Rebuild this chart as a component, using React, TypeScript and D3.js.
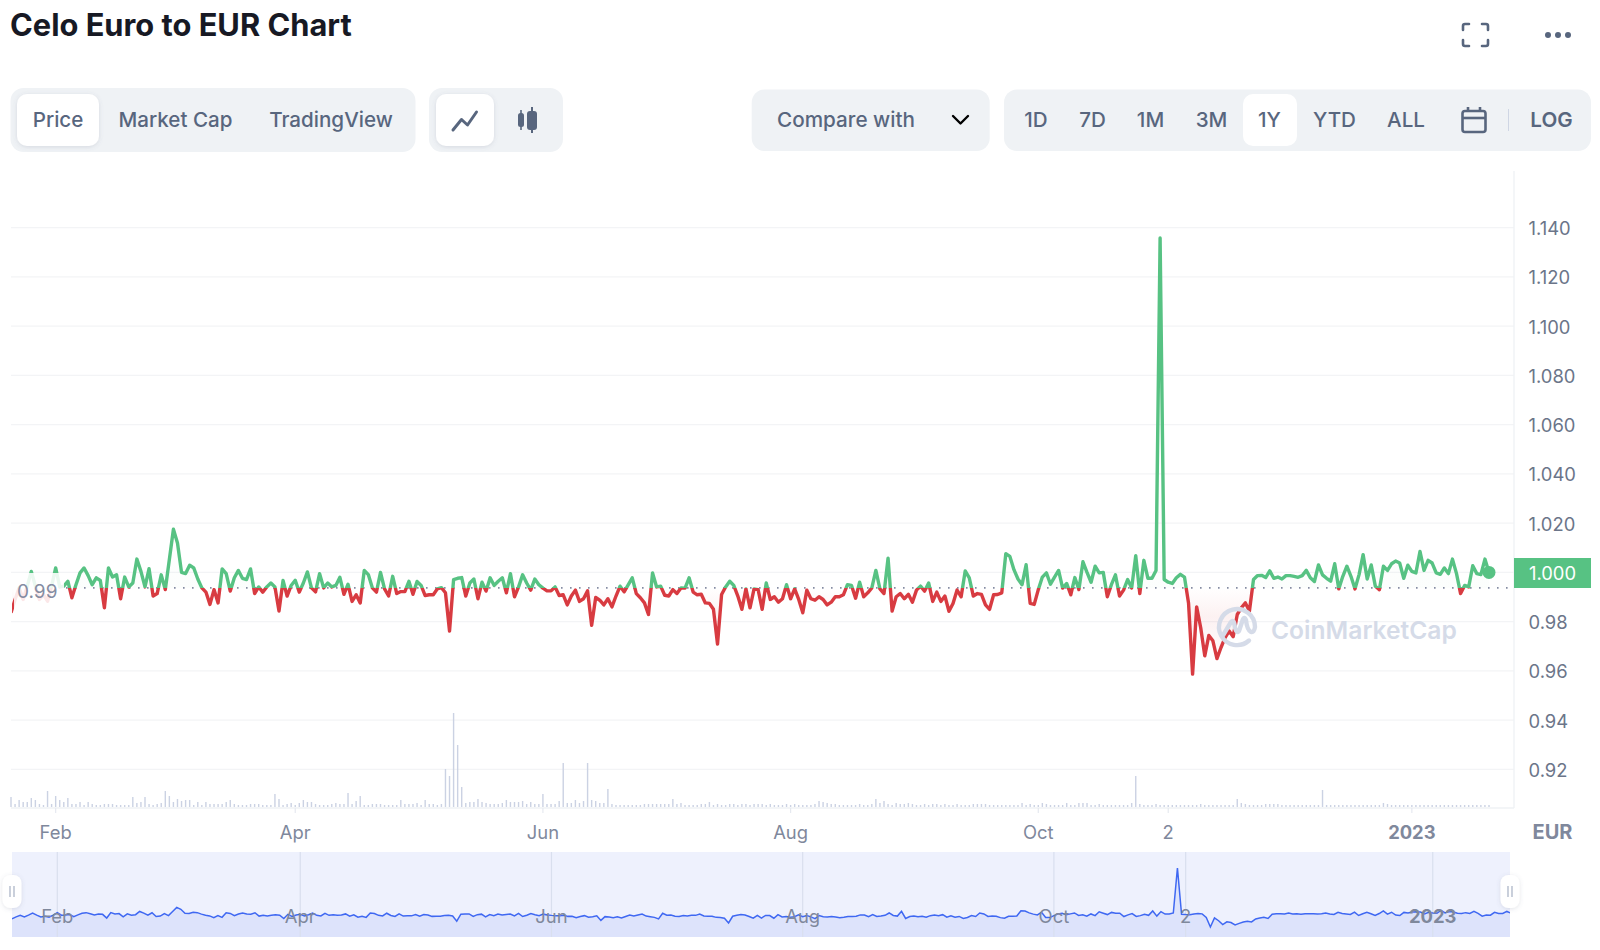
import * as d3 from "d3";

const prices = [
  0.9836, 0.989, 0.9937, 0.989, 0.9944, 1.0004, 0.9944, 0.989, 0.991, 0.9883,
  0.9944, 1.0018, 0.9941, 0.9944, 0.9964, 0.9897, 0.995, 0.9998, 1.0018, 0.9987,
  0.995, 0.9978, 0.9967, 0.9856, 1.0018, 0.9981, 0.999, 0.9893, 0.9981, 0.9941,
  0.9957, 1.0054, 1.0004, 0.9941, 1.0015, 0.9904, 0.9914, 0.999, 0.993, 1.0052,
  1.0175, 1.0119, 1.0, 0.9995, 1.0029, 1.0018, 0.9973, 0.9937, 0.992, 0.987,
  0.993, 0.9876, 1.0014, 0.9995, 0.9924, 0.9978, 1.0008, 0.9976, 0.9971, 1.0014,
  0.9914, 0.9941, 0.992, 0.9941, 0.9957, 0.9941, 0.9843, 0.9967, 0.9904, 0.9947,
  0.9968, 0.992, 0.9957, 1.0002, 0.9937, 0.9921, 0.9995, 0.9937, 0.9957, 0.9941,
  0.9947, 0.998, 0.9911, 0.9952, 0.9882, 0.9909, 0.9876, 1.0008, 0.9991, 0.9937,
  0.992, 1.0, 0.9933, 0.9904, 0.9984, 0.9914, 0.9922, 0.9922, 0.9964, 0.9911,
  0.9963, 0.9947, 0.9906, 0.9909, 0.9909, 0.9933, 0.9938, 0.9917, 0.9762, 0.9971,
  0.9976, 0.9979, 0.9904, 0.9957, 0.9973, 0.9893, 0.996, 0.9924, 0.9978, 0.9947,
  0.9964,
  0.9978, 0.9917, 0.9995, 0.9901, 0.9941, 0.999, 0.9957, 0.9928, 0.9973, 0.995,
  0.9936, 0.9925, 0.9925, 0.9941, 0.9906, 0.9909, 0.9868, 0.9904, 0.9928, 0.9882,
  0.9893, 0.9925, 0.9785, 0.9898, 0.9887, 0.9868, 0.9893, 0.986, 0.9904, 0.9944,
  0.9921, 0.9949, 0.9978, 0.9914, 0.9897, 0.9876, 0.9829, 0.9998, 0.9941, 0.9944,
  0.9907, 0.9904, 0.993, 0.9914, 0.9937, 0.9936, 0.9978, 0.992, 0.9909, 0.9911,
  0.9876, 0.9874, 0.985, 0.9709, 0.991, 0.9941, 0.9964, 0.9947, 0.9904, 0.985,
  0.9933, 0.9856, 0.9933, 0.993, 0.985, 0.9957, 0.989, 0.9901, 0.9879, 0.9893,
  0.995, 0.9893, 0.9933, 0.989, 0.9836, 0.9928, 0.9893, 0.9887, 0.9901, 0.989,
  0.9868, 0.9879, 0.9901, 0.9901, 0.9909, 0.995, 0.9947, 0.9895, 0.996, 0.9901,
  0.9917, 0.9937, 1.0008, 0.9933, 0.9914, 1.0058, 0.9843, 0.9901, 0.9914, 0.9893,
  0.9911, 0.9879, 0.9928, 0.9944, 0.9924, 0.9957, 0.9882, 0.992, 0.9882, 0.9904,
  0.9842, 0.9874, 0.9928, 0.9901, 1.0006, 0.9978, 0.9904, 0.9914, 0.9911, 0.9868,
  0.985, 0.9909, 0.991,
  0.9917, 1.0076, 1.0065, 1.0011, 0.9973, 0.995, 1.0031, 0.9874, 0.987, 0.993,
  0.9981, 0.9998, 0.9952, 0.9981, 1.0008, 0.9936, 0.9955, 0.9909, 0.9979, 0.993,
  1.0043, 1.0, 0.996, 1.0025, 0.9998, 1.0, 0.9901, 0.995, 0.999, 0.9904,
  0.9928, 0.9971, 0.9937, 1.0068, 0.9914, 1.0049, 0.9976, 0.9976, 1.0008, 1.1358,
  0.9971, 0.996, 0.9955, 0.9978, 0.9992, 0.9981, 0.9876, 0.9587, 0.986, 0.9775,
  0.9661, 0.9744, 0.9722, 0.965, 0.9695, 0.9735, 0.9762, 0.9739, 0.9829, 0.9856,
  0.9876, 0.9843, 0.9971, 0.9987, 0.9988, 0.9979, 1.0006, 0.9976, 0.9981, 0.9973,
  0.9987, 0.9987, 0.9984, 0.998, 0.9987, 1.0008, 0.9978, 0.9963, 1.003, 0.999,
  0.9976, 0.9964, 1.0035, 0.9933, 0.9984, 1.0025, 0.9984, 0.9933, 0.9991, 1.0072,
  0.9973, 1.003, 0.9944, 0.993, 1.0025, 1.0008, 1.0035, 1.0046, 1.0038, 0.9976,
  1.0029, 1.0004, 0.9998, 1.0085, 1.0008, 1.0049, 1.0038, 0.9998, 0.9992, 1.0018,
  0.9995, 1.0054, 0.9995, 0.9914, 0.9947, 0.9941, 1.0027, 0.9995, 0.9991, 1.0054,
  1.0,
];

// relative daily volume
const volumes = [
  10, 3, 7, 5, 5, 9, 7, 3, 2, 16, 3, 11, 7, 5, 9, 3, 3, 5, 2, 5,
  3, 2, 2, 3, 3, 3, 2, 2, 2, 2, 10, 4, 5, 10, 3, 2, 3, 4, 16, 11,
  5, 8, 6, 7, 7, 2, 5, 2, 5, 3, 3, 3, 3, 5, 7, 3, 2, 2, 2, 3,
  3, 3, 2,
  2, 2, 13, 8, 2, 3, 4, 2, 4, 7, 5, 5, 3, 2, 2, 2, 3, 4, 3, 3,
  14, 3, 6, 11, 2, 2, 3, 3, 3, 2, 2, 2, 2, 7, 3, 3, 3, 4, 2, 7,
  3, 3, 2, 3, 38, 31, 94, 62, 20, 4, 5, 5, 8, 5, 4, 3, 3, 3, 4, 7,
  5, 5, 5, 6,
  3, 5, 3, 3, 13, 3, 3, 3, 6, 44, 4, 4, 7, 4, 6, 44, 7, 6, 4, 4,
  18, 3, 2, 2, 2, 2, 2, 2, 2, 3, 3, 3, 3, 3, 3, 3, 8, 3, 4, 2,
  2, 2, 2, 3, 3, 5, 2, 3, 2, 2, 3, 3, 2, 3, 3, 2, 3, 3, 3, 2,
  3, 2, 2, 2,
  3, 2, 3, 2, 2, 2, 2, 3, 6, 5, 4, 3, 3, 2, 2, 2, 2, 2, 3, 2,
  2, 3, 8, 4, 6, 3, 2, 4, 3, 3, 4, 3, 2, 2, 3, 2, 3, 3, 2, 3,
  2, 2, 3, 2, 2, 2, 3, 3, 3, 3, 2, 2, 2, 2, 2, 2, 2, 2, 4, 2,
  3, 2, 2, 4, 3, 2, 2, 2, 2, 4, 2, 2, 4, 4, 4, 2, 2, 3, 2, 2,
  2, 2, 2, 2, 2, 4, 31, 3, 2, 2, 2, 3, 2, 2, 2, 2, 2, 2, 2, 2,
  2, 2, 3, 2, 2, 2, 2, 2, 2, 2, 2, 8, 4, 3, 2, 2, 2, 2, 3, 3,
  3, 3, 2, 2, 2, 2, 2, 2, 2, 2, 2, 2, 17, 2, 2, 2, 2, 2, 2, 2,
  2, 2, 2, 2, 2, 2, 2, 4, 3, 2, 2, 2, 2, 2, 2, 2, 2, 2, 2, 2,
  2, 2, 2, 2, 2, 2, 2, 2, 2, 2, 2, 2, 2, 2,
];

const yTicks = [1.14, 1.12, 1.1, 1.08, 1.06, 1.04, 1.02, 0.98, 0.96, 0.94, 0.92];
const lastPrice = 1.0;
const basePrice = 0.9937;
const timeTicks = [
  { date: new Date(Date.UTC(2022, 1, 1)), label: "Feb", bold: false },
  { date: new Date(Date.UTC(2022, 3, 1)), label: "Apr", bold: false },
  { date: new Date(Date.UTC(2022, 5, 1)), label: "Jun", bold: false },
  { date: new Date(Date.UTC(2022, 7, 1)), label: "Aug", bold: false },
  { date: new Date(Date.UTC(2022, 9, 1)), label: "Oct", bold: false },
  { date: new Date(Date.UTC(2022, 10, 2)), label: "2", bold: false },
  { date: new Date(Date.UTC(2023, 0, 1)), label: "2023", bold: true },
];
const startDate = new Date(Date.UTC(2022, 0, 21));
const dates = prices.map((_, i) => d3.utcDay.offset(startDate, i));

const rangeButtons = [
  { label: "1D", x: 1036 },
  { label: "7D", x: 1092.5 },
  { label: "1M", x: 1150.5 },
  { label: "3M", x: 1211.5 },
  { label: "1Y", x: 1269.5 },
  { label: "YTD", x: 1334.5 },
  { label: "ALL", x: 1406 },
];

const width = 1600;
const height = 950;
const plotLeft = 11;
const plotRight = 1514;
const plotBottom = 808;
const navTop = 852;
const navBottom = 937;
const navRight = 1510;

const green = "#57c283";
const red = "#d83b41";
const btnBg = "#eff2f5";
const btnText = "#58667e";
const axisText = "#7f889c";
const font = "Inter, sans-serif";

const x = d3.scaleUtc().domain([dates[0], dates[dates.length - 1]]).range([plotLeft, 1489]);
const y = d3.scaleLinear().domain([0.92, 1.14]).range([769.4, 227.6]);
const yVol = d3.scaleLinear().domain([0, 94]).range([807, 713]);
const xNav = d3.scaleUtc().domain([dates[0], dates[dates.length - 1]]).range([12, 1511]);
const yNav = d3.scaleLinear().domain([0.9587, 1.1358]).range([927, 868]);

const baseY = y(basePrice);
const priceLine = d3.line<number>().x((_, i) => x(dates[i])).y((d) => y(d));
const priceArea = d3.area<number>().x((_, i) => x(dates[i])).y0(baseY).y1((d) => y(d));
const navLine = d3.line<number>().x((_, i) => xNav(dates[i])).y((d) => yNav(d));
const navArea = d3.area<number>().x((_, i) => xNav(dates[i])).y0(navBottom).y1((d) => yNav(d));

function NavHandle(props: { cx: number }) {
  const { cx } = props;
  return (
    <g>
      <rect x={cx - 9.5} y={875} width={19} height={33} rx={8} fill="#fff" filter="url(#softShadow)" />
      <line x1={cx - 2} x2={cx - 2} y1={886} y2={897} stroke="#a6b0c3" strokeWidth={1.2} />
      <line x1={cx + 2} x2={cx + 2} y1={886} y2={897} stroke="#a6b0c3" strokeWidth={1.2} />
    </g>
  );
}

export default function App() {
  return (
    <svg
      width={width}
      height={height}
      viewBox={`0 0 ${width} ${height}`}
      style={{ position: "absolute", left: 0, top: 0, display: "block", background: "#fff", fontFamily: font }}
    >
      <defs>
        <clipPath id="aboveBase"><rect x={12} y={0} width={1500} height={baseY} /></clipPath>
        <clipPath id="belowBase"><rect x={12} y={baseY} width={1500} height={300} /></clipPath>
        <clipPath id="navClip"><rect x={12} y={navTop} width={navRight - 12} height={navBottom - navTop} /></clipPath>
        <linearGradient id="redFade" gradientUnits="userSpaceOnUse" x1={0} x2={0} y1={baseY} y2={670}>
          <stop offset="0" stopColor={red} stopOpacity={0} />
          <stop offset="0.35" stopColor={red} stopOpacity={0.07} />
          <stop offset="1" stopColor={red} stopOpacity={0} />
        </linearGradient>
        <linearGradient id="greenFade" gradientUnits="userSpaceOnUse" x1={0} x2={0} y1={baseY} y2={500}>
          <stop offset="0" stopColor={green} stopOpacity={0.02} />
          <stop offset="1" stopColor={green} stopOpacity={0} />
        </linearGradient>
        <filter id="softShadow" x="-30%" y="-30%" width="160%" height="160%">
          <feDropShadow dx={0} dy={1} stdDeviation={2} floodColor="#58667e" floodOpacity={0.18} />
        </filter>
      </defs>

      {/* header */}
      <text x={10} y={36} fontSize={30.8} fontWeight={700} fill="#171924">Celo Euro to EUR Chart</text>
      <g fill="none" stroke={btnText} strokeWidth={2.6} strokeLinecap="round">
        <path d="M1463 30v-4q0-2 2-2h4M1482 24h4q2 0 2 2v4M1488 40v4q0 2-2 2h-4M1469 46h-4q-2 0-2-2v-4" />
      </g>
      <g fill={btnText}>
        <circle cx={1548} cy={35} r={3} />
        <circle cx={1558} cy={35} r={3} />
        <circle cx={1568} cy={35} r={3} />
      </g>

      {/* left button groups */}
      <rect x={10.5} y={88} width={405} height={64} rx={13} fill={btnBg} />
      <rect x={17} y={94} width={82} height={52} rx={10} fill="#fff" filter="url(#softShadow)" />
      <g fontSize={20.6} fontWeight={500} fill={btnText} textAnchor="middle">
        <text x={58} y={127}>Price</text>
        <text x={175.5} y={127}>Market Cap</text>
        <text x={331} y={127}>TradingView</text>
      </g>
      <rect x={429} y={88} width={134} height={64} rx={13} fill={btnBg} />
      <rect x={436} y={94} width={58} height={52} rx={10} fill="#fff" filter="url(#softShadow)" />
      <path d="M453 130l8.5-10.5 6 5.5 9-13" fill="none" stroke={btnText} strokeWidth={3} strokeLinecap="round" strokeLinejoin="round" />
      <g fill={btnText}>
        <rect x={518} y={113} width={6} height={14} rx={2.5} />
        <rect x={520.2} y={110} width={1.6} height={20} />
        <rect x={527} y={111} width={10} height={19} rx={3} />
        <rect x={531} y={107} width={2} height={26} />
      </g>

      {/* right button groups */}
      <rect x={751.7} y={89.5} width={238} height={61.5} rx={13} fill={btnBg} />
      <text x={777} y={127} fontSize={20.7} fontWeight={500} fill={btnText}>Compare with</text>
      <path d="M953 116l7.5 7.5 7.5-7.5" fill="none" stroke="#000" strokeWidth={2.4} strokeLinecap="round" strokeLinejoin="round" />
      <rect x={1004} y={89.5} width={587} height={61.5} rx={13} fill={btnBg} />
      <rect x={1243} y={94} width={54} height={52} rx={10} fill="#fff" />
      <g fontSize={20.6} fontWeight={500} fill={btnText} textAnchor="middle">
        {rangeButtons.map((b) => (
          <text key={b.label} x={b.x} y={127}>{b.label}</text>
        ))}
      </g>
      <g fill="none" stroke={btnText} strokeWidth={2.6}>
        <rect x={1462.5} y={111} width={23} height={21} rx={2.5} />
        <line x1={1462.5} x2={1485.5} y1={118} y2={118} />
        <line x1={1468} x2={1468} y1={107} y2={112} />
        <line x1={1480} x2={1480} y1={107} y2={112} />
      </g>
      <line x1={1508.5} x2={1508.5} y1={109} y2={131} stroke="#cfd6e4" strokeWidth={1} />
      <text x={1551.5} y={127} fontSize={20.6} fontWeight={600} fill={btnText} textAnchor="middle">LOG</text>

      {/* grid */}
      {yTicks.concat(lastPrice).map((t) => (
        <line key={t} x1={plotLeft} x2={plotRight} y1={y(t)} y2={y(t)} stroke="#f3f4f6" strokeWidth={1.4} />
      ))}
      <line x1={plotRight} x2={plotRight} y1={171} y2={plotBottom} stroke="#eff2f5" strokeWidth={1.4} />
      <line x1={plotLeft} x2={plotRight} y1={plotBottom} y2={plotBottom} stroke="#eff2f5" strokeWidth={1.4} />
      {timeTicks.map((t) => (
        <line key={t.label} x1={x(t.date)} x2={x(t.date)} y1={plotBottom} y2={plotBottom + 5} stroke="#e6e9f0" strokeWidth={1.2} />
      ))}

      {/* volume */}
      {volumes.map((v, i) => (
        <rect key={i} x={x(dates[i]) - 0.7} y={yVol(v)} width={1.4} height={yVol(0) - yVol(v)} fill="#cbd2e3" />
      ))}

      {/* price */}
      <path d={priceArea(prices) ?? ""} fill="url(#redFade)" clipPath="url(#belowBase)" />
      <path d={priceArea(prices) ?? ""} fill="url(#greenFade)" clipPath="url(#aboveBase)" />
      <line x1={66} x2={plotRight} y1={baseY} y2={baseY} stroke="#858ca2" strokeWidth={1.6} strokeDasharray="1.6 7.4" />

      <path d={priceLine(prices) ?? ""} fill="none" stroke={red} strokeWidth={3.4} strokeLinejoin="round" clipPath="url(#belowBase)" />
      <path d={priceLine(prices) ?? ""} fill="none" stroke={green} strokeWidth={3.4} strokeLinejoin="round" clipPath="url(#aboveBase)" />
      <circle cx={x(dates[dates.length - 1])} cy={y(prices[prices.length - 1])} r={6.5} fill={green} />

      {/* watermark */}
      <path
        d="M1249 640.5A18 18 0 1 1 1255 627Q1254 633 1251 632Q1247 630 1246 620Q1244 615 1242 622L1239 631Q1237 634 1235 628Q1234 618 1231 622L1222 637"
        fill="none"
        stroke="#d5dbe8"
        strokeWidth={4.4}
        strokeLinecap="round"
        strokeLinejoin="round"
      />
      <text x={1271} y={638.5} fontSize={24.6} fontWeight={600} fill="#d5dbe8">CoinMarketCap</text>

      {/* base price label over the line */}
      <rect x={14} y={573} width={50} height={37} fill="#fff" opacity={0.88} />
      <text x={17} y={598} fontSize={19} fill="#858ca2">{"0.99"}</text>

      {/* y axis */}
      <g fontSize={18.4} fill="#6b7589">
        {yTicks.map((t) => (
          <text key={t} x={1528.5} y={y(t) + 7.5}>{t.toFixed(3).replace(/^0\.(\d\d)0$/, "0.$1")}</text>
        ))}
      </g>
      <rect x={1514} y={558} width={77} height={30} fill={green} />
      <text x={1552.5} y={580} fontSize={18.4} fill="#fff" textAnchor="middle">{lastPrice.toFixed(3)}</text>

      {/* x axis */}
      <g fontSize={18.4} textAnchor="middle" fill={axisText}>
        {timeTicks.map((t) => (
          <text key={t.label} x={x(t.date)} y={838.5} fontWeight={t.bold ? 700 : 400}>{t.label}</text>
        ))}
      </g>
      <text x={1552.5} y={838.5} fontSize={20} fontWeight={700} fill={axisText} textAnchor="middle">EUR</text>

      {/* navigator */}
      <rect x={12} y={navTop} width={navRight - 12} height={navBottom - navTop} fill="#eef1fd" />
      <g clipPath="url(#navClip)">
        <path d={navArea(prices) ?? ""} fill="#dde3fb" />
        {timeTicks.map((t) => (
          <line key={t.label} x1={xNav(t.date)} x2={xNav(t.date)} y1={navTop} y2={navBottom} stroke="#d9dfee" strokeWidth={1.2} />
        ))}
        <path d={navLine(prices) ?? ""} fill="none" stroke="#3f68f2" strokeWidth={1.5} />
      </g>
      <g fontSize={18.4} textAnchor="middle" fill={axisText}>
        {timeTicks.map((t) => (
          <text key={t.label} x={xNav(t.date)} y={923} fontWeight={t.bold ? 700 : 400}>{t.label}</text>
        ))}
      </g>
      <NavHandle cx={12} />
      <NavHandle cx={1510} />
    </svg>
  );
}
